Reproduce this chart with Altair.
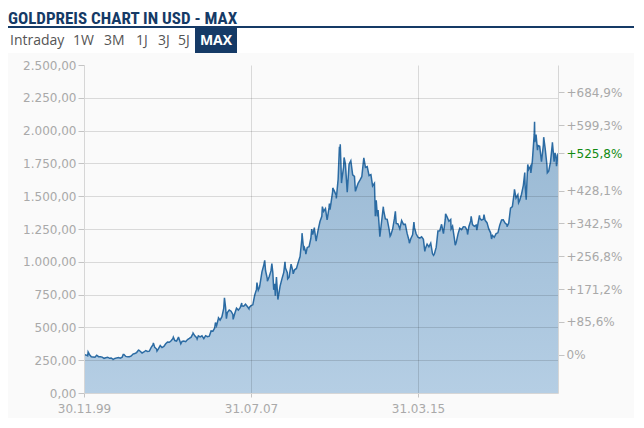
import altair as alt
import pandas as pd

# ---------------- data (USD per ounce) ----------------
start_date = "1999-11-30"
start_price = 292.0

# month-end prices, Dec 1999 .. Aug 2021
p1999 = [290.3]
p2000 = [283.3, 293.7, 276.8, 275.1, 272.3, 288.2, 276.8, 277.0, 273.7, 264.5, 269.1, 272.7]
p2001 = [264.5, 266.7, 257.7, 263.2, 267.5, 270.6, 265.9, 273.0, 293.1, 278.8, 275.5, 276.5]
p2002 = [282.3, 296.9, 301.4, 308.2, 326.6, 318.5, 304.7, 312.8, 323.7, 316.9, 319.1, 347.2]
p2003 = [367.5, 347.5, 334.9, 336.8, 361.4, 346.0, 354.8, 375.6, 388.0, 386.3, 398.4, 416.3]
p2004 = [399.8, 395.9, 423.7, 388.5, 393.3, 395.8, 391.4, 407.3, 415.7, 425.6, 453.4, 435.6]
p2005 = [422.2, 435.5, 427.5, 435.7, 414.5, 437.1, 429.0, 433.3, 473.3, 470.8, 495.7, 513.0]
p2006 = [568.8, 556.0, 582.0, 644.0, 653.0, 613.5, 632.5, 623.5, 599.3, 603.8, 646.7, 632.0]
p2007 = [650.5, 664.2, 661.8, 677.0, 659.1, 650.5, 665.5, 672.0, 743.0, 789.5, 783.5, 833.8]
p2008 = [923.3, 971.5, 933.5, 871.0, 885.8, 930.3, 918.0, 833.0, 884.5, 730.8, 814.5, 869.8]
p2009 = [919.5, 952.0, 916.5, 883.3, 975.5, 934.5, 939.0, 949.5, 995.8, 1040.0, 1175.8, 1087.5]
p2010 = [1078.5, 1109.5, 1115.5, 1179.3, 1207.5, 1244.0, 1169.0, 1246.0, 1307.0, 1346.8, 1383.5, 1405.5]
p2011 = [1327.0, 1411.0, 1439.0, 1535.5, 1536.5, 1505.5, 1628.5, 1813.5, 1620.0, 1722.0, 1746.0, 1531.0]
p2012 = [1744.0, 1770.0, 1662.5, 1651.3, 1558.0, 1598.5, 1622.0, 1648.5, 1776.0, 1719.0, 1726.0, 1657.5]
p2013 = [1664.8, 1578.3, 1598.3, 1469.0, 1394.5, 1192.0, 1314.5, 1394.8, 1326.5, 1324.0, 1253.0, 1204.5]
p2014 = [1251.0, 1326.5, 1291.8, 1288.5, 1250.5, 1315.0, 1285.3, 1285.8, 1216.5, 1164.3, 1175.5, 1206.0]
p2015 = [1260.3, 1214.0, 1187.0, 1180.3, 1190.5, 1171.0, 1098.4, 1135.0, 1114.0, 1142.4, 1061.1, 1060.0]
p2016 = [1111.8, 1234.9, 1237.0, 1285.7, 1214.7, 1320.8, 1342.0, 1309.3, 1322.5, 1272.0, 1178.1, 1145.9]
p2017 = [1212.8, 1255.6, 1244.9, 1266.5, 1266.2, 1242.3, 1267.6, 1311.8, 1283.1, 1270.2, 1280.2, 1291.0]
p2018 = [1331.3, 1317.9, 1323.9, 1316.1, 1298.3, 1250.5, 1220.8, 1200.7, 1187.3, 1215.0, 1220.8, 1279.0]
p2019 = [1318.5, 1320.2, 1295.4, 1283.5, 1295.9, 1409.0, 1419.9, 1528.4, 1485.3, 1511.0, 1466.7, 1514.8]
p2020 = [1582.9, 1585.7, 1609.0, 1702.8, 1728.7, 1768.1, 1971.0, 1970.5, 1886.9, 1879.9, 1762.8, 1887.6]
p2021 = [1863.7, 1743.3, 1691.1, 1760.2, 1900.0, 1763.2, 1807.8, 1813.2]

last_date = "2021-09-03"
last_price = 1827.3

# intra-month highs / lows
extra_dates = [
    "2000-02-07", "2001-04-02", "2001-09-17", "2002-06-04", "2003-02-05", "2003-04-07",
    "2004-01-06", "2004-04-01", "2004-05-10", "2004-12-02", "2005-02-08", "2005-12-12",
    "2006-02-01", "2006-05-12", "2006-06-14", "2006-10-05", "2007-02-26", "2007-06-27",
    "2007-11-08", "2007-12-21", "2008-03-17", "2008-05-01", "2008-07-15", "2008-08-15",
    "2008-09-11", "2008-10-24", "2009-02-20", "2009-04-06", "2009-06-02", "2009-07-08",
    "2009-12-03", "2010-01-04", "2010-02-05", "2010-05-14", "2010-06-28", "2010-07-28",
    "2010-11-09", "2011-01-27", "2011-03-07", "2011-03-17", "2011-05-02", "2011-07-01",
    "2011-08-22", "2011-09-05", "2011-09-26", "2011-11-08", "2012-05-16", "2012-10-04",
    "2013-04-03", "2013-04-15", "2013-05-20", "2013-08-27", "2013-12-19", "2014-03-17",
    "2014-11-07", "2015-01-22", "2015-07-24", "2015-12-17", "2016-07-06", "2016-10-07",
    "2016-12-15", "2017-07-10", "2017-09-08", "2017-12-12", "2018-01-25", "2018-04-11",
    "2018-08-16", "2019-05-02", "2019-09-04", "2019-11-12", "2020-02-24", "2020-03-19",
    "2020-04-14", "2020-06-05", "2020-08-06", "2020-08-11", "2020-09-24", "2021-01-06",
    "2021-03-08", "2021-06-01", "2021-07-15", "2021-08-09",
]
extra_values = [
    312.7, 256.0, 293.3, 327.0, 382.1, 319.9,
    426.0, 427.3, 375.0, 456.8, 411.1, 536.5,
    572.0, 725.0, 567.0, 560.8, 685.8, 642.0,
    841.1, 806.3, 1011.3, 852.8, 986.0, 786.8,
    740.8, 712.5, 1000.0, 870.3, 982.0, 908.5,
    1218.3, 1121.0, 1058.0, 1249.0, 1261.0, 1158.0,
    1421.0, 1319.0, 1444.0, 1397.0, 1563.0, 1483.0,
    1877.0, 1895.0, 1600.0, 1795.0, 1537.0, 1791.8,
    1553.0, 1348.0, 1345.0, 1420.0, 1195.0, 1385.0,
    1142.0, 1302.0, 1080.0, 1049.0, 1366.0, 1251.0,
    1126.0, 1208.0, 1346.0, 1242.0, 1354.0, 1360.0,
    1174.0, 1268.0, 1552.0, 1450.0, 1680.0, 1474.0,
    1742.0, 1677.0, 2067.0, 1912.0, 1850.0, 1950.0,
    1678.0, 1910.0, 1830.0, 1728.0,
]

left_ticks = [0, 250, 500, 750, 1000, 1250, 1500, 1750, 2000, 2250, 2500]
x_ticks = [(1999, 11, 30), (2007, 7, 31), (2015, 3, 31)]
tabs = ["Intraday", "1W", "3M", "1J", "3J", "5J"]
active_tab = "MAX"
title_text = "GOLDPREIS CHART IN USD - MAX"

# ---------------- table ----------------
monthly = (p1999 + p2000 + p2001 + p2002 + p2003 + p2004 + p2005 + p2006 + p2007 + p2008
           + p2009 + p2010 + p2011 + p2012 + p2013 + p2014 + p2015 + p2016 + p2017
           + p2018 + p2019 + p2020 + p2021)
month_dates = pd.date_range("1999-12-31", periods=len(monthly), freq=pd.offsets.MonthEnd())
df = pd.DataFrame({
    "date": [pd.Timestamp(start_date)] + list(month_dates) + list(pd.to_datetime(extra_dates)) + [pd.Timestamp(last_date)],
    "price": [start_price] + monthly + extra_values + [last_price],
}).sort_values("date").reset_index(drop=True)

# right-hand axis: percent change vs. first value
right_ticks = [start_price + 250 * k for k in range(9) if abs(start_price + 250 * k - last_price) > 60]
right_ticks.append(last_price)

# ---------------- styling ----------------
GRID = "#000000"
GRID_OP = 0.13
DOMAIN = "#d6d6d6"
TICK = "#c4c4c4"
LABEL = "#a9a9a9"
NAVY = "#153a66"

x_dom = [alt.DateTime(year=1999, month=11, date=30), alt.DateTime(year=2021, month=9, date=3)]
x_scale = alt.Scale(domain=x_dom)
y_scale = alt.Scale(domain=[0, 2500], nice=False)

x_enc = alt.X(
    "date:T", scale=x_scale,
    axis=alt.Axis(values=[alt.DateTime(year=a, month=b, date=c) for a, b, c in x_ticks],
                  format="%d.%m.%y", title=None, grid=True, gridColor=GRID, gridOpacity=GRID_OP,
                  tickSize=4, tickColor=TICK, domainColor=DOMAIN, labelPadding=6,
                  labelFlush=False, zindex=1),
)

area = alt.Chart(df).mark_area(
    opacity=1,
    color=alt.Gradient(gradient="linear",
                       stops=[alt.GradientStop(color="#98b8d3", offset=0),
                              alt.GradientStop(color="#b5cee4", offset=1)],
                       x1=1, x2=1, y1=0, y2=1),
    line={"color": "#2b6ba3", "strokeWidth": 1.5},
).encode(
    x=x_enc,
    y=alt.Y("price:Q", scale=y_scale,
            axis=alt.Axis(orient="left", values=left_ticks, format=",.2f", title=None,
                          grid=True, gridColor=GRID,
                          gridOpacity={"condition": {"test": "datum.value >= 2500 || datum.value <= 0",
                                                     "value": 0}, "value": GRID_OP},
                          tickSize=6, tickColor=TICK, domainColor=DOMAIN, labelPadding=2,
                          zindex=1)),
)

pct_expr = (f"abs(datum.value - {start_price}) < 0.01 ? '0%' : "
            f"'+' + format((datum.value / {start_price} - 1) * 100, '.1f') + '%'")
right = alt.Chart(df).mark_line(opacity=0).encode(
    x=x_enc,
    y=alt.Y("price:Q", scale=y_scale,
            axis=alt.Axis(orient="right", values=right_ticks, labelExpr=pct_expr, title=None,
                          grid=False, tickSize=6, tickColor=TICK, domainColor=DOMAIN,
                          labelPadding=2, zindex=1,
                          labelColor={"condition": {"test": f"abs(datum.value - {last_price}) < 0.01",
                                                    "value": "#118a11"}, "value": LABEL})),
)

one = pd.DataFrame({"k": [0]})
panel = alt.Chart(one).mark_rect(color="#fafafa").encode(
    x=alt.value(-76), x2=alt.value(560), y=alt.value(-12), y2=alt.value(360))

underline = alt.Chart(one).mark_rule(color=NAVY, strokeWidth=2).encode(
    x=alt.value(-76), x2=alt.value(560), y=alt.value(-38))

title = alt.Chart(one).mark_text(
    text=title_text, align="left", baseline="alphabetic",
    font="Roboto Condensed, Roboto, sans-serif",
    fontSize=17, fontWeight="bold", color=NAVY,
).encode(x=alt.value(-76), y=alt.value(-41))

tab_x = [-74, -11, 20, 52, 74, 94]
tab_layers = [
    alt.Chart(one).mark_text(text=t, align="left", baseline="middle", font="Open Sans",
                             fontSize=14, color="#555555").encode(x=alt.value(px), y=alt.value(-24))
    for t, px in zip(tabs, tab_x)
]

box = alt.Chart(one).mark_rect(color=NAVY).encode(
    x=alt.value(111), x2=alt.value(153), y=alt.value(-37), y2=alt.value(-12))
box_text = alt.Chart(one).mark_text(
    text=active_tab, align="center", baseline="middle", font="Open Sans", fontSize=14,
    fontWeight="bold", color="#ffffff").encode(x=alt.value(132), y=alt.value(-24))

chart = alt.layer(panel, area, right, underline, title, *tab_layers, box, box_text).resolve_scale(
    y="independent"
).properties(
    width=474, height=328,
    padding={"left": 76, "top": 57, "right": 76, "bottom": 25},
    autosize=alt.AutoSizeParams(type="none"),
    background="#ffffff",
).configure(
    locale={"number": {"decimal": ",", "thousands": ".", "grouping": [3], "currency": ["", " €"]}},
).configure_view(
    strokeWidth=0,
).configure_axis(
    labelFont="DejaVu Sans", labelFontSize=12, labelColor=LABEL,
)

chart.save("out.html", embed_options={"renderer": "svg", "actions": False})
